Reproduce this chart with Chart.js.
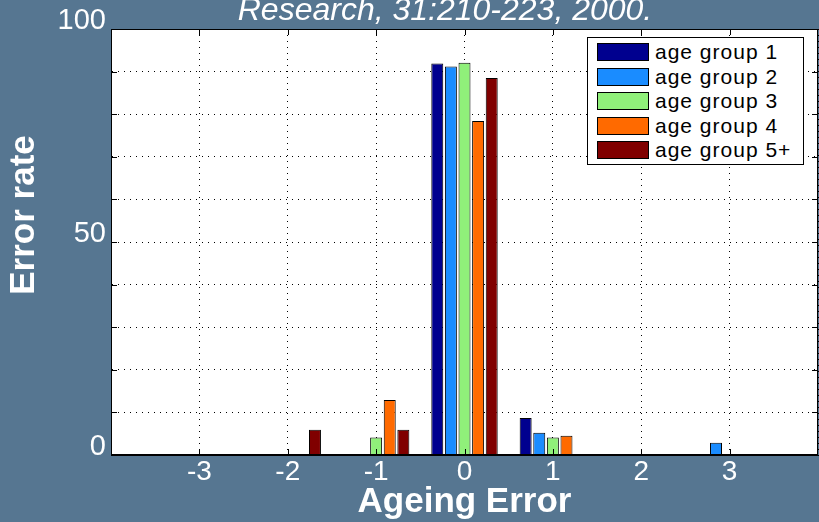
<!DOCTYPE html>
<html lang="en">
<head>
  <meta charset="UTF-8">
  <title>Ageing Error</title>
  <script src="https://cdn.jsdelivr.net/npm/chart.js"></script>
  <style>
    body { margin: 0; background: #567691; }
    .wrap { position: relative; width: 819px; height: 522px; overflow: hidden; }
    #legend {
      position: absolute; left: 587px; top: 37px; width: 217px; height: 128px;
      box-sizing: border-box; background: #fff; border: 1px solid #000;
      padding: 2px 0 0 9px; font: 21px "Liberation Sans", Arial, sans-serif; letter-spacing: 1px;
    }
    #legend div { display: flex; align-items: center; height: 24.5px; }
    #legend span.box { width: 52px; height: 18px; box-sizing: border-box; border: 1px solid #000; margin-right: 6px; }
  </style>
</head>
<body>
<div class="wrap">
  <canvas id="errChart" width="819" height="522"></canvas>
  <div id="legend"></div>
</div>

<script>
  const subtitle = 'Research, 31:210-223, 2000.';
  const yTitle = 'Error rate';
  const xTitle = 'Ageing Error';

  const errors = [-3, -2, -1, 0, 1, 2, 3];
  const groupLabels = ['age group 1', 'age group 2', 'age group 3', 'age group 4', 'age group 5+'];
  const group1 = [null, null, null, 91.9, 8.7, null, null];
  const group2 = [null, null, null, 91.2, 5.2, null, 2.9];
  const group3 = [null, null, 4.1, 92.1, 4.1, null, null];
  const group4 = [null, null, 12.9, 78.4, 4.5, null, null];
  const group5 = [null, 5.9, 5.9, 88.5, null, null, null];
  const colors = ['#00008f', '#1a8cff', '#90f07a', '#ff6a00', '#800000'];

  const groups = [group1, group2, group3, group4, group5];
  const font = '"Liberation Sans", Arial, sans-serif';

  // white plot area, box, inward ticks and the two texts outside the normal layout
  const frame = {
    id: 'frame',
    beforeDraw(chart) {
      const { ctx, chartArea: a } = chart;
      ctx.save();
      ctx.fillStyle = '#fff';
      ctx.fillRect(a.left, a.top, a.width, a.height);
      ctx.restore();
    },
    afterDraw(chart) {
      const { ctx, chartArea: a, scales: { x, y } } = chart;
      ctx.save();
      ctx.strokeStyle = '#000';
      ctx.lineWidth = 1;
      ctx.strokeRect(a.left + 0.5, a.top + 0.5, a.width - 1, a.height - 1);
      ctx.beginPath();
      y.ticks.forEach(t => {
        const py = Math.round(y.getPixelForValue(t.value)) + 0.5;
        ctx.moveTo(a.left, py); ctx.lineTo(a.left + 6, py);
        ctx.moveTo(a.right, py); ctx.lineTo(a.right - 6, py);
      });
      errors.forEach(e => {
        const px = Math.round(x.getPixelForValue(e)) + 0.5;
        ctx.moveTo(px, a.bottom); ctx.lineTo(px, a.bottom - 6);
        ctx.moveTo(px, a.top); ctx.lineTo(px, a.top + 6);
      });
      ctx.stroke();

      ctx.fillStyle = '#fff';
      ctx.textAlign = 'center';
      ctx.font = 'italic 32px ' + font;
      ctx.textBaseline = 'alphabetic';
      ctx.fillText(subtitle, 445, 20);
      ctx.translate(24, 215);
      ctx.rotate(-Math.PI / 2);
      ctx.font = 'bold 35px ' + font;
      ctx.textBaseline = 'middle';
      ctx.fillText(yTitle, 0, 0);
      ctx.restore();
    }
  };

  const chart = new Chart(document.getElementById('errChart'), {
    type: 'bar',
    data: {
      datasets: groups.map((g, i) => ({
        label: groupLabels[i],
        data: errors.map((e, j) => ({ x: e, y: g[j] })),
        backgroundColor: colors[i],
        borderColor: '#000',
        borderWidth: 1,
        categoryPercentage: 0.77,
        barPercentage: 0.88
      }))
    },
    options: {
      responsive: false,
      animation: false,
      layout: { padding: { top: 29, right: 1, left: 0, bottom: 0 } },
      plugins: { legend: { display: false }, tooltip: { enabled: false } },
      scales: {
        x: {
          type: 'linear', min: -4, max: 4, offset: false,
          ticks: {
            stepSize: 1, color: '#fff', padding: 0,
            font: { family: font, size: 28 },
            callback: v => Math.abs(v) === 4 ? '' : v
          },
          grid: { color: '#000', drawTicks: false, offset: false },
          border: { color: '#000', dash: [1, 5] },
          title: {
            display: true, text: xTitle, color: '#fff',
            font: { family: font, size: 35, weight: 'bold', lineHeight: 1 },
            padding: { top: 0, bottom: 2 }
          },
          afterFit(s) { s.height = 67; }
        },
        y: {
          min: 0, max: 100,
          ticks: {
            stepSize: 10, color: '#fff', padding: 5, labelOffset: -8,
            font: { family: font, size: 29 },
            callback: v => v % 50 === 0 ? v : ''
          },
          grid: { color: '#000', drawTicks: false },
          border: { color: '#000', dash: [1, 5] },
          afterFit(s) { s.width = 111; }
        }
      }
    },
    plugins: [frame]
  });

  // legend box drawn in html, from the chart's datasets
  document.getElementById('legend').innerHTML = chart.data.datasets.map(d =>
    '<div><span class="box" style="background:' + d.backgroundColor + '"></span>' + d.label + '</div>'
  ).join('');
</script>
</body>
</html>
